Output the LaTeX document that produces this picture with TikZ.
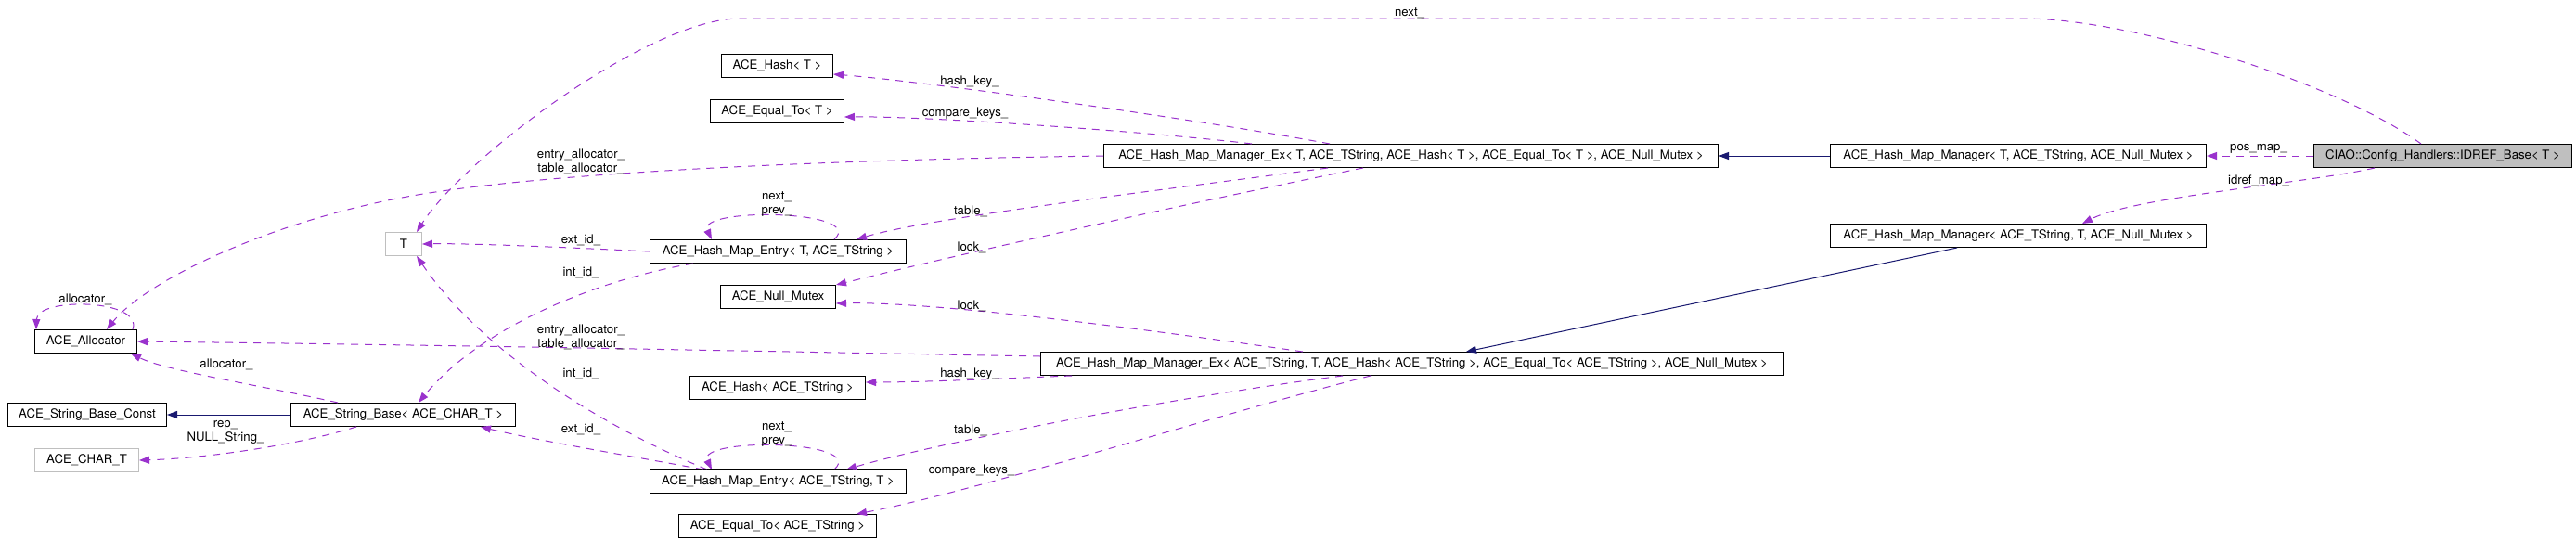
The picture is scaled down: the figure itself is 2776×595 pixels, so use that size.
\documentclass[tikz,border=0pt]{standalone}
\usepackage{fontspec}
\setmainfont{TeX Gyre Heros}
\usetikzlibrary{arrows.meta,calc}
\definecolor{edgepurple}{HTML}{9A32CD}
\definecolor{inhblue}{HTML}{191970}
\definecolor{boxgray}{HTML}{BFBFBF}
\begin{document}
\begin{tikzpicture}[x=1pt,y=-1pt,
  cls/.style={draw=black, line width=1pt, inner sep=0pt, anchor=north west, minimum height=25pt, font=\fontsize{13.2}{15}\selectfont},
  ext/.style={cls, draw=boxgray},
  main/.style={cls, fill=boxgray},
  lbl/.style={inner sep=0pt, align=center, font=\fontsize{13.2}{15}\selectfont},
  use/.style={draw=edgepurple, line width=1pt, dash pattern=on 8pt off 7pt, -{Triangle[length=11pt,width=8pt]}},
  inh/.style={draw=inhblue, line width=1pt, -{Triangle[length=11pt,width=8pt]}}]
\useasboundingbox (0,0) rectangle (2776,595);
\fill[white] (0,0) rectangle (2776,595);

% nodes
\node[cls, minimum width=110pt] (alloc) at (37,355) {ACE\_Allocator};
\node[ext, minimum width=39pt] (T) at (415,250) {T};
\node[cls, minimum width=171pt] (sbc) at (8,434) {ACE\_String\_Base\_Const};
\node[cls, minimum width=242pt] (sb) at (313,434) {ACE\_String\_Base< ACE\_CHAR\_T >};
\node[ext, minimum width=112pt] (chart) at (37,483) {ACE\_CHAR\_T};
\node[cls, minimum width=120pt] (hashT) at (777,58) {ACE\_Hash< T >};
\node[cls, minimum width=144pt] (eqT) at (765,107) {ACE\_Equal\_To< T >};
\node[cls, minimum width=276pt] (entry1) at (700,258) {ACE\_Hash\_Map\_Entry< T, ACE\_TString >};
\node[cls, minimum width=124pt] (mutex) at (776,307) {ACE\_Null\_Mutex};
\node[cls, minimum width=662pt] (hmmex1) at (1189,155) {ACE\_Hash\_Map\_Manager\_Ex< T, ACE\_TString, ACE\_Hash< T >, ACE\_Equal\_To< T >, ACE\_Null\_Mutex >};
\node[cls, minimum width=800pt] (hmmex2) at (1121,379) {ACE\_Hash\_Map\_Manager\_Ex< ACE\_TString, T, ACE\_Hash< ACE\_TString >, ACE\_Equal\_To< ACE\_TString >, ACE\_Null\_Mutex >};
\node[cls, minimum width=189pt] (hashS) at (743,405) {ACE\_Hash< ACE\_TString >};
\node[cls, minimum width=276pt] (entry2) at (700,506) {ACE\_Hash\_Map\_Entry< ACE\_TString, T >};
\node[cls, minimum width=213pt] (eqS) at (731,554) {ACE\_Equal\_To< ACE\_TString >};
\node[cls, minimum width=405pt] (hmm1) at (1972,155) {ACE\_Hash\_Map\_Manager< T, ACE\_TString, ACE\_Null\_Mutex >};
\node[cls, minimum width=405pt] (hmm2) at (1972,241) {ACE\_Hash\_Map\_Manager< ACE\_TString, T, ACE\_Null\_Mutex >};
\node[main, minimum width=278pt] (ciao) at (2493,155) {CIAO::Config\_Handlers::IDREF\_Base< T >};

% inheritance
\draw[inh] (hmm1.west) -- (hmmex1.east);
\draw[inh] ($(hmm2.south west)+(137,0)$) -- ($(hmmex2.north west)+(459,0)$);
\draw[inh] (sb.west) -- (sbc.east);

% usage edges
\draw[use] (ciao.west) -- (hmm1.east);
\draw[use] ($(ciao.south west)+(66,0)$) .. controls (2490,197) and (2300,212) .. ($(hmm2.north west)+(272,0)$);
\draw[use] ($(ciao.north west)+(116,0)$) .. controls (2520,90) and (2300,20) .. (2180,20) -- (797,20) .. controls (700,20) and (500,170) .. ($(T.north west)+(34,0)$);
\draw[use] ($(hmmex1.north west)+(244,0)$) .. controls (1300,130) and (1000,88) .. ($(hashT.south east)+(0,-4)$);
\draw[use] ($(hmmex1.north west)+(160,0)$) .. controls (1250,143) and (1000,125) .. ($(eqT.south east)+(0,-7)$);
\draw[use] (hmmex1.west) .. controls (900,172) and (600,185) .. (450,210) .. controls (300,235) and (160,300) .. ($(alloc.north west)+(78,0)$);
\draw[use] ($(alloc.north west)+(106,0)$) .. controls (155,322) and (40,320) .. ($(alloc.north west)+(2,0)$);
\draw[use] ($(sb.north west)+(51,0)$) .. controls (280,415) and (180,400) .. ($(alloc.south west)+(104,0)$);
\draw[use] ($(sb.south west)+(71,0)$) .. controls (320,480) and (220,494) .. (chart.east);
\draw[use] (entry1.west) .. controls (600,266) and (500,262) .. (T.east);
\draw[use] ($(entry1.south west)+(47,0)$) .. controls (650,300) and (520,350) .. ($(sb.north west)+(138,0)$);
\draw[use] ($(entry1.north west)+(199,0)$) .. controls (935,226) and (750,223) .. ($(entry1.north west)+(67,0)$);
\draw[use] ($(hmmex1.south west)+(242,0)$) .. controls (1250,205) and (1000,235) .. ($(entry1.north west)+(223,0)$);
\draw[use] ($(hmmex1.south west)+(280,0)$) .. controls (1300,215) and (1050,270) .. (mutex.north east);
\draw[use] ($(hmmex2.north west)+(283,0)$) .. controls (1200,350) and (1000,325) .. ($(mutex.south east)+(0,-6)$);
\draw[use] ($(hmmex2.north west)+(0,5)$) .. controls (900,380) and (500,372) .. (alloc.east);
\draw[use] ($(hmmex2.south west)+(34,0)$) .. controls (1100,407) and (1000,412) .. ($(hashS.north east)+(0,7)$);
\draw[use] ($(hmmex2.south west)+(326,0)$) .. controls (1250,430) and (1000,480) .. ($(entry2.north west)+(212,0)$);
\draw[use] ($(hmmex2.south west)+(356,0)$) .. controls (1300,450) and (1050,530) .. ($(eqS.north west)+(192,0)$);
\draw[use] ($(entry2.north west)+(199,0)$) .. controls (935,474) and (750,471) .. ($(entry2.north west)+(67,0)$);
\draw[use] ($(entry2.north west)+(58,0)$) .. controls (700,495) and (580,475) .. ($(sb.south west)+(205,0)$);
\draw[use] ($(entry2.north west)+(62,0)$) .. controls (650,460) and (520,380) .. ($(T.south west)+(34,0)$);

% labels
\node[lbl] (l1) at (1519,14) {next\_};
\node[lbl] (l2) at (1045,88) {hash\_key\_};
\node[lbl] (l3) at (1040,122) {compare\_keys\_};
\node[lbl] (l4) at (626,174) {entry\_allocator\_\\table\_allocator\_};
\node[lbl] (l5) at (837,220) {next\_\\prev\_};
\node[lbl] (l6) at (1046,228) {table\_};
\node[lbl] (l7) at (626,259) {ext\_id\_};
\node[lbl] (l8) at (1047,267) {lock\_};
\node[lbl] (l9) at (626,294) {int\_id\_};
\node[lbl] (l10) at (92,323) {allocator\_};
\node[lbl] (l11) at (1047,330) {lock\_};
\node[lbl] (l12) at (626,363) {entry\_allocator\_\\table\_allocator\_};
\node[lbl] (l13) at (244,393) {allocator\_};
\node[lbl] (l14) at (1045,403) {hash\_key\_};
\node[lbl] (l15) at (626,403) {int\_id\_};
\node[lbl] (l16) at (626,463) {ext\_id\_};
\node[lbl] (l17) at (837,468) {next\_\\prev\_};
\node[lbl] (l18) at (1046,464) {table\_};
\node[lbl] (l19) at (243,466) {rep\_\\NULL\_String\_};
\node[lbl] (l20) at (1047,507) {compare\_keys\_};
\node[lbl] (l21) at (2434,160) {pos\_map\_};
\node[lbl] (l22) at (2434,195) {idref\_map\_};
\end{tikzpicture}
\end{document}
